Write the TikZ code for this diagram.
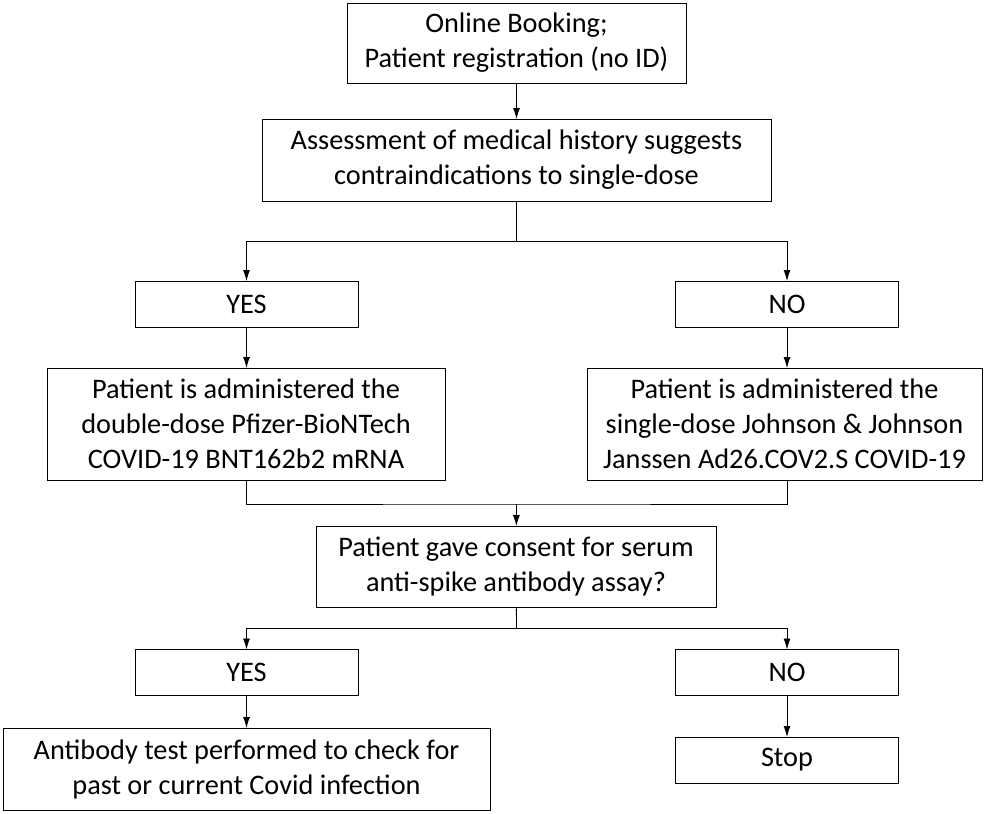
\documentclass[tikz,border=0pt]{standalone}
\usepackage{fontspec}
\setmainfont{Carlito}
\usetikzlibrary{arrows.meta,positioning}

\begin{document}
\begin{tikzpicture}[x=1pt,y=-1pt,every node/.style={block},
  block/.style={draw,rectangle,align=center,outer sep=0pt,inner sep=0pt,line width=0.9pt,
    font=\fontsize{28.3}{35}\selectfont},
  answer/.style={block,minimum width=223,minimum height=46},
  link/.style={line width=0.8pt},
  arrow/.style={link,-{Latex[length=11pt,width=7pt]}}]

  \useasboundingbox (0,0) rectangle (986,814);

        \node (book) [minimum width=339,minimum height=80] at (516.5,43) {Online Booking;\\Patient registration (no ID)};
        \node (assess) [minimum width=509,minimum height=82] at (516.5,160) {Assessment of medical history suggests\\contraindications to single-dose};
        \node (yes1) [answer] at (246.5,304) {YES};
        \node (no1) [answer] at (787,304) {NO};
        \node (pfizer) [minimum width=398,minimum height=112] at (246,424) {Patient is administered the\\double-dose Pfizer-BioNTech\\COVID-19 BNT162b2 mRNA};
        \node (jj) [minimum width=395,minimum height=112] at (784.5,424) {Patient is administered the\\single-dose Johnson \& Johnson\\Janssen Ad26.COV2.S COVID-19};
        \node (consent) [minimum width=400,minimum height=81] at (516,566.5) {Patient gave consent for serum\\anti-spike antibody assay?};
        \node (yes2) [answer] at (246.5,672.5) {YES};
        \node (no2) [answer] at (787,672.5) {NO};
        \node (test) [minimum width=487,minimum height=82] at (246.5,769) {Antibody test performed to check for\\past or current Covid infection};
        \node (stop) [answer] at (787,760) {Stop};

        \coordinate (split1) at (516.5,241);
        \coordinate (merge) at (516.5,504);
        \coordinate (split2) at (516.5,628);

        \draw[arrow] (book) -- (assess);
        \draw[link] (assess) -- (split1);
        \draw[arrow] (split1) -| (yes1);
        \draw[arrow] (split1) -| (no1);
        \draw[arrow] (yes1) -- (yes1 |- pfizer.north);
        \draw[arrow] (no1) -- (no1 |- jj.north);

        \draw[link] (yes1 |- pfizer.south) |- (merge) -| (no1 |- jj.south);
        \draw[arrow] (merge) -- (consent);
        \draw[link] (consent) -- (split2);
        \draw[arrow] (split2) -| (yes2);
        \draw[arrow] (split2) -| (no2);
        \draw[arrow] (yes2) -- (test);
        \draw[arrow] (no2) -- (stop);
      \end{tikzpicture}
\end{document}
